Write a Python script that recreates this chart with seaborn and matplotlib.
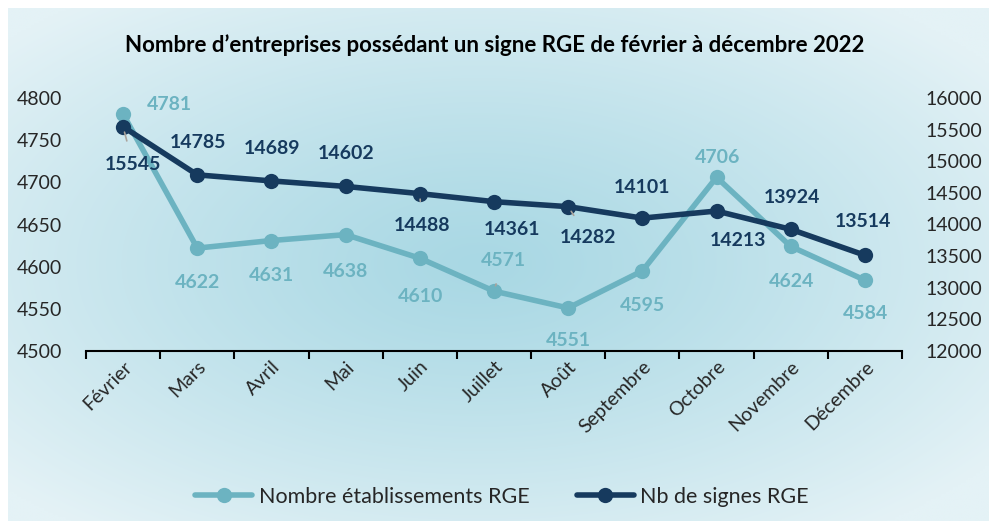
import numpy as np
import matplotlib
matplotlib.use("Agg")
import matplotlib.pyplot as plt
import seaborn as sns

# Monthly figures, February to December 2022
mois = ["Février", "Mars", "Avril", "Mai", "Juin", "Juillet", "Août",
        "Septembre", "Octobre", "Novembre", "Décembre"]
etablissements = [4781, 4622, 4631, 4638, 4610, 4571, 4551, 4595, 4706, 4624, 4584]
signes = [15545, 14785, 14689, 14602, 14488, 14361, 14282, 14101, 14213, 13924, 13514]

left_ticks = [4500, 4550, 4600, 4650, 4700, 4750, 4800]
right_ticks = [12000, 12500, 13000, 13500, 14000, 14500, 15000, 15500, 16000]

titre = "Nombre d\u2019entreprises possédant un signe RGE de février à décembre 2022"
nom_etab = "Nombre établissements RGE"
nom_signes = "Nb de signes RGE"

# label offsets in pixels (dx, dy with y pointing up)
off_etab = [(46, 10), (0, -34), (0, -35), (0, -37), (1, -38), (9, 31),
            (0, -33), (0, -35), (1, 20), (1, -35), (1, -33)]
off_signes = [(10, -38), (1, 32), (1, 32), (0, 33), (2, -32), (18, -28),
              (20, -31), (0, 31), (21, -29), (1, 32), (-2, 34)]
leader_etab = {5}
leader_signes = {0, 4, 6}

c_light = "#6cb3c1"
c_dark = "#163a5e"
c_leader = "#aaa39b"

sns.set_theme(style="white")
plt.rcParams["font.family"] = ["Lato", "DejaVu Sans"]

W, H = 989, 521
fig = plt.figure(figsize=(W / 100, H / 100), dpi=100)
fig.patch.set_facecolor("white")

# radial background
bg = fig.add_axes([8 / W, 0, (W - 8) / W, (H - 8) / H], zorder=-10)
gx, gy = np.meshgrid(np.linspace(0, 1, 400), np.linspace(0, 1, 220))
d = np.sqrt(((gx - 0.48) / 0.62) ** 2 + ((gy - 0.5) / 0.62) ** 2)
t = np.clip(d / 1.05, 0, 1) ** 1.2
c0 = np.array(matplotlib.colors.to_rgb("#a9d8e4"))
c1 = np.array(matplotlib.colors.to_rgb("#e4f2f6"))
img = c0[None, None, :] * (1 - t[..., None]) + c1[None, None, :] * t[..., None]
bg.imshow(img, aspect="auto", extent=[0, 1, 0, 1], interpolation="bilinear")
bg.set_axis_off()

ax = fig.add_axes([86 / W, 1 - 351 / H, (902 - 86) / W, (351 - 98) / H])
ax.patch.set_alpha(0)
x = np.arange(len(mois))

sns.lineplot(x=x, y=etablissements, ax=ax, color=c_light, linewidth=4,
             marker="o", markersize=11, markeredgewidth=0, label=nom_etab)
ax2 = ax.twinx()
sns.lineplot(x=x, y=signes, ax=ax2, color=c_dark, linewidth=4,
             marker="o", markersize=11, markeredgewidth=0, label=nom_signes)

ax.set_xlim(-0.5, len(mois) - 0.5)
ax.set_ylim(left_ticks[0], left_ticks[-1])
ax2.set_ylim(right_ticks[0], right_ticks[-1])
ax.set_yticks(left_ticks)
ax2.set_yticks(right_ticks)
ax.set_xticks(x)
ax.set_xticklabels(mois, rotation=45, ha="right", rotation_mode="anchor", fontsize=14)
ax.set_xticks(np.arange(-0.5, len(mois)), minor=True)
ax.tick_params(axis="x", which="major", length=0, pad=5)
ax.tick_params(axis="x", which="minor", bottom=True, length=6, width=1.5,
               color="black", direction="out")
ax.tick_params(axis="y", length=0, pad=17, labelsize=14)
ax2.tick_params(axis="y", length=0, pad=17, labelsize=14)
for a in (ax, ax2):
    for s in ("left", "right", "top"):
        a.spines[s].set_visible(False)
    a.set_xlabel("")
    a.set_ylabel("")
ax.spines["bottom"].set_color("black")
ax.spines["bottom"].set_linewidth(1.5)
ax2.spines["bottom"].set_visible(False)

def annotate(axis, vals, offs, color, leaders):
    for i, (v, (dx, dy)) in enumerate(zip(vals, offs)):
        props = None
        if i in leaders:
            props = dict(arrowstyle="-", color=c_leader, lw=1.2, shrinkA=9, shrinkB=4)
        axis.annotate(f"{v}", xy=(i, v), xytext=(dx, dy), textcoords="offset pixels",
                      ha="center", va="center", fontsize=14, fontweight="bold",
                      color=color, arrowprops=props, zorder=5)

annotate(ax, etablissements, off_etab, c_light, leader_etab)
annotate(ax2, signes, off_signes, c_dark, leader_signes)

h1, l1 = ax.get_legend_handles_labels()
h2, l2 = ax2.get_legend_handles_labels()
ax.get_legend().remove()
ax2.get_legend().remove()
fig.legend(h1 + h2, l1 + l2, loc="center", bbox_to_anchor=(502 / W, 1 - 497 / H),
           ncol=2, frameon=False, fontsize=15.5, handlelength=2.65,
           columnspacing=2.2, handletextpad=0.3)

fig.text(0.5, 1 - 45 / H, titre, ha="center", va="center",
         fontsize=16, fontweight="bold", color="black")

fig.savefig("out.png", dpi=100)
